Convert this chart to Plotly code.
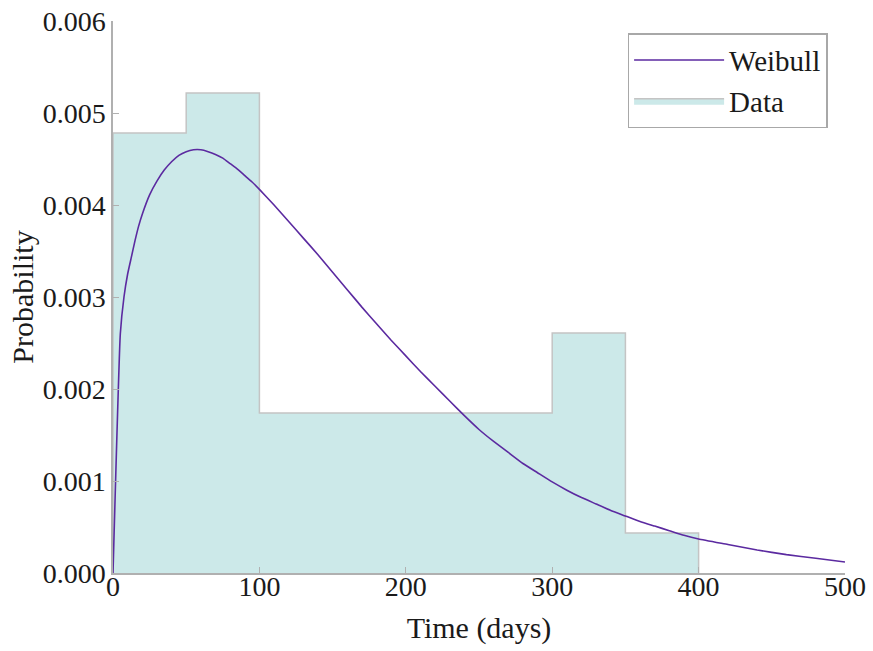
import plotly.graph_objects as go

# Histogram (density) data
bin_edges = [0, 50, 100, 150, 200, 250, 300, 350, 400]
densities = [0.004783, 0.005217, 0.001739, 0.001739, 0.001739, 0.001739, 0.002609, 0.000435]

# Weibull curve
curve_x = [0, 5, 7.5, 10, 12.5, 15, 17.5, 20, 25, 30, 35, 40, 45, 50, 55, 60, 65, 70, 75, 80, 85, 90,
           95, 100, 110, 120, 130, 140, 150, 160, 170, 180, 190, 200, 210, 220, 230, 240, 250, 260,
           270, 280, 290, 300, 310, 320, 330, 340, 350, 360, 370, 380, 390, 400, 420, 440, 460,
           480, 500]
curve_y = [0.0, 0.00260, 0.00300, 0.00325, 0.00343, 0.00361, 0.00377, 0.00390, 0.00411, 0.00426,
           0.00438, 0.00447, 0.00454, 0.00458, 0.00460, 0.00460, 0.00458, 0.00455, 0.00451,
           0.00445, 0.00439, 0.00432, 0.00425, 0.00417, 0.00400, 0.00382,
           0.00364, 0.00346, 0.00327, 0.00308, 0.00289, 0.00271, 0.00253, 0.00236, 0.00219, 0.00203,
           0.00187, 0.00171, 0.00156, 0.00143, 0.00131, 0.00119, 0.00109, 0.00099, 0.00090, 0.00082,
           0.00075, 0.00068, 0.00062, 0.00056, 0.00051, 0.00046, 0.00041, 0.00037, 0.00031, 0.00025,
           0.00020, 0.00016, 0.00012]

y_ticks = [0.000, 0.001, 0.002, 0.003, 0.004, 0.005, 0.006]
y_tick_text = ["0.000", "0.001", "0.002", "0.003", "0.004", "0.005", "0.006"]
x_ticks = [0, 100, 200, 300, 400, 500]

FONT = "Liberation Serif"
GREY = "#b0b0b0"

# step outline points
step_x = [bin_edges[0]] + bin_edges[:-1] + [bin_edges[-1], bin_edges[-1]]
step_y = [0] + densities + [densities[-1], 0]

fig = go.Figure()
fig.add_trace(go.Scatter(
    x=step_x, y=step_y, mode="lines", line=dict(shape="hv", color="#c4c4c4", width=1.5),
    fill="tozeroy", fillcolor="#cce9e9", name="Data", hoverinfo="skip"))
fig.add_trace(go.Scatter(
    x=curve_x, y=curve_y, mode="lines", line=dict(color="#5b2aa0", width=1.6, shape="spline",
                                                  smoothing=0.4),
    name="Weibull"))

fig.update_layout(
    width=873, height=651,
    margin=dict(l=113, r=28, t=21, b=78),
    plot_bgcolor="white", paper_bgcolor="white",
    font=dict(family=FONT, size=28, color="#1a1a1a"),
    showlegend=True,
    legend=dict(x=0.703, y=0.978, xanchor="left", yanchor="top", traceorder="reversed",
                bgcolor="white", bordercolor="#a8a8a8", borderwidth=1.5,
                font=dict(family=FONT, size=29), itemwidth=90, tracegroupgap=5),
    xaxis=dict(range=[0, 500], tickvals=x_ticks, showgrid=False, zeroline=False,
               showline=True, linecolor=GREY, linewidth=1.5, ticks="inside", ticklen=6,
               tickcolor=GREY, mirror=False, automargin=False, ticklabelstandoff=-12,
               ticklabeloverflow="allow",
               title=dict(text="Time (days)", standoff=16, font=dict(family=FONT, size=30))),
    yaxis=dict(range=[0, 0.006], tickvals=y_ticks, ticktext=y_tick_text, showgrid=False,
               zeroline=False, showline=True, linecolor=GREY, linewidth=1.5, ticks="inside",
               ticklen=6, tickcolor=GREY, mirror=False, automargin=False,
               ticklabeloverflow="allow",
               title=dict(text="Probability", standoff=0, font=dict(family=FONT, size=30))),
)

# remove the page's default body margin so the figure fills the window exactly
fig.write_html("out.html", config={"displayModeBar": False},
               post_script="document.body.style.margin='0';")
